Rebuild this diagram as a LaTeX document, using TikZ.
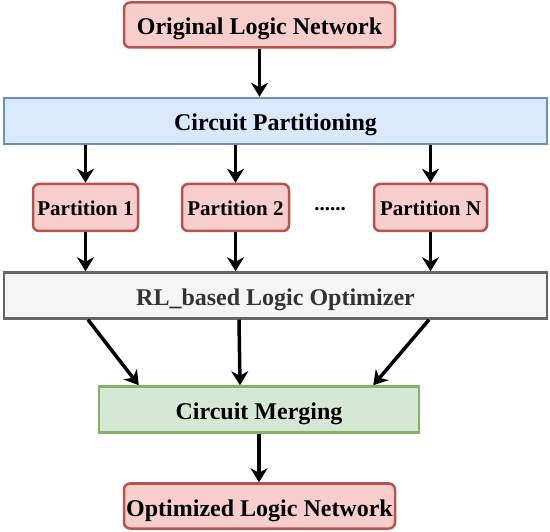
\documentclass[tikz,border=0pt]{standalone}
\usepackage{fontspec}
\setmainfont{Liberation Serif}[BoldFont={Liberation Serif Bold}]
\usetikzlibrary{arrows.meta}
\definecolor{redfill}{HTML}{F8CECC}
\definecolor{redline}{HTML}{B85450}
\definecolor{bluefill}{HTML}{DAE8FC}
\definecolor{blueline}{HTML}{6C8EBF}
\definecolor{grayfill}{HTML}{F5F5F5}
\definecolor{grayline}{HTML}{666666}
\definecolor{graytext}{HTML}{333333}
\definecolor{greenfill}{HTML}{D5E8D4}
\definecolor{greenline}{HTML}{82B366}
\tikzset{
  % rounded red boxes: input / output network and the partitions
  netbox/.style={
    draw=redline, fill=redfill, rounded corners=6pt, line width=2.5pt,
    minimum width=#1, minimum height=45pt, inner sep=0pt,
    text height=20pt, text depth=0pt,
    font=\bfseries\fontsize{24}{28}\selectfont},
  partbox/.style={
    draw=redline, fill=redfill, rounded corners=6pt, line width=2.5pt,
    minimum width=#1, minimum height=47pt, inner sep=0pt,
    text height=17pt, text depth=0pt,
    font=\bfseries\fontsize{21}{25}\selectfont},
  % wide stage bars
  stagebar/.style={
    rectangle, line width=2.5pt, minimum width=#1, minimum height=46pt,
    inner sep=0pt, text height=20pt, text depth=0pt,
    font=\bfseries\fontsize{24}{28}\selectfont},
  % connectors
  flow/.style={-{Stealth[length=14pt,width=17pt,inset=4.5pt]}, line width=3.5pt, black},
}

\begin{document}
\begin{tikzpicture}[x=1pt, y=-1pt]
  \useasboundingbox (0,0) rectangle (550,532);

  \node[netbox=271] (orig) at (259.5,25) {Original Logic Network};
  \node[stagebar=543, draw=blueline, fill=bluefill] (cp) at (275.5,121) {Circuit Partitioning};

  \node[partbox=105] (p1) at (85.5,207.5) {Partition 1};
  \node[partbox=107] (p2) at (235.5,207.5) {Partition 2};
  \node[partbox=113] (pn) at (430.5,207.5) {Partition N};
  \node[font=\bfseries\fontsize{21}{25}\selectfont] (dots) at (330,209) {......};

  \node[stagebar=543, draw=grayline, fill=grayfill, text=graytext] (rl) at (275.5,295.5)
    {RL\_based Logic Optimizer};
  \node[stagebar=320, draw=greenline, fill=greenfill] (mg) at (259,409.5) {Circuit Merging};
  \node[netbox=271] (opt) at (259.5,506) {Optimized Logic Network};

  \draw[flow] (orig) -- (orig |- cp.north);
  \draw[flow] (cp.south -| p1) -- (p1);
  \draw[flow] (cp.south -| p2) -- (p2);
  \draw[flow] (cp.south -| pn) -- (pn);
  \draw[flow] (p1) -- (p1 |- rl.north);
  \draw[flow] (p2) -- (p2 |- rl.north);
  \draw[flow] (pn) -- (pn |- rl.north);
  \draw[flow] (rl.south -| 88,0) -- ([xshift=41]mg.north west);
  \draw[flow] (rl.south -| 239,0) -- ([xshift=-19]mg.north);
  \draw[flow] (rl.south -| 429,0) -- ([xshift=-47]mg.north east);
  \draw[flow] (mg) -- (mg |- opt.north);

\end{tikzpicture}
\end{document}
